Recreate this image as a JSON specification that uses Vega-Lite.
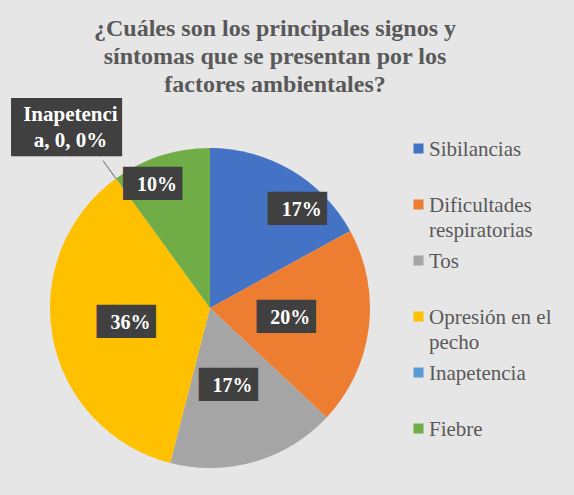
{
  "$schema": "https://vega.github.io/schema/vega-lite/v6.json",
  "width": 320,
  "height": 320,
  "autosize": "none",
  "padding": {"left": 50, "top": 148, "right": 204, "bottom": 27},
  "background": "#e6e6e6",
  "title": {
    "text": ["¿Cuáles son los principales signos y", "síntomas que se presentan por los", "factores ambientales?"],
    "font": "Liberation Serif",
    "fontSize": 24,
    "fontWeight": "bold",
    "color": "#595959",
    "lineHeight": 28,
    "anchor": "middle",
    "dx": 65,
    "offset": -26
  },
  "data": {
    "values": [
      {"categoria": "Sibilancias", "porcentaje": 0.17},
      {"categoria": "Dificultades respiratorias", "porcentaje": 0.20},
      {"categoria": "Tos", "porcentaje": 0.17},
      {"categoria": "Opresión en el pecho", "porcentaje": 0.36},
      {"categoria": "Inapetencia", "porcentaje": 0},
      {"categoria": "Fiebre", "porcentaje": 0.10}
    ]
  },
  "transform": [{"window": [{"op": "row_number", "as": "orden"}]}],
  "encoding": {
    "theta": {"field": "porcentaje", "type": "quantitative", "stack": true},
    "order": {"field": "orden", "type": "quantitative"}
  },
  "layer": [
    {
      "mark": {"type": "arc", "outerRadius": 160},
      "encoding": {
        "color": {
          "field": "categoria",
          "type": "nominal",
          "sort": null,
          "scale": {
            "domain": ["Sibilancias", "Dificultades respiratorias", "Tos", "Opresión en el pecho", "Inapetencia", "Fiebre"],
            "range": ["#4472C4", "#ED7D31", "#A5A5A5", "#FFC000", "#5B9BD5", "#70AD47"]
          },
          "legend": {
            "title": null,
            "orient": "none",
            "legendX": 358,
            "legendY": -10,
            "padding": 0,
            "symbolType": "square",
            "symbolSize": 100,
            "symbolStrokeWidth": 0,
            "labelFont": "Liberation Serif",
            "labelFontSize": 21,
            "labelColor": "#595959",
            "labelLimit": 200,
            "labelOffset": 0,
            "labelBaseline": "top",
            "rowPadding": 9,
            "labelExpr": "datum.label == 'Dificultades respiratorias' ? ['Dificultades', 'respiratorias'] : datum.label == 'Opresión en el pecho' ? ['Opresión en el', 'pecho'] : [datum.label, ' ']",
            "encode": {
              "labels": {"update": {"lineHeight": {"value": 25}, "dy": {"value": -10}}}
            }
          }
        }
      }
    },
    {
      "mark": {"type": "arc", "radius": 182, "radius2": 160, "fillOpacity": 0, "stroke": "#7f7f7f", "strokeWidth": 1},
      "encoding": {
        "strokeOpacity": {"condition": {"test": "datum.categoria === 'Inapetencia'", "value": 1}, "value": 0}
      }
    },
    {
      "mark": {"type": "text", "radius": 81, "font": "DejaVu Sans Mono", "fontSize": 28, "color": "#404040", "align": "center", "baseline": "middle"},
      "encoding": {
        "text": {"condition": {"test": "indexof(['Dificultades respiratorias', 'Tos', 'Opresión en el pecho'], datum.categoria) >= 0", "value": "███▌"}, "value": ""}
      }
    },
    {
      "mark": {"type": "text", "radius": 81, "font": "Liberation Serif", "fontSize": 20, "fontWeight": "bold", "color": "#ffffff", "align": "center", "baseline": "middle"},
      "encoding": {
        "text": {"condition": {"test": "indexof(['Dificultades respiratorias', 'Tos', 'Opresión en el pecho'], datum.categoria) >= 0", "field": "porcentaje", "type": "quantitative", "format": ".0%"}, "value": ""}
      }
    },
    {
      "mark": {"type": "text", "radius": 133, "dx": 24, "dy": 16, "font": "DejaVu Sans Mono", "fontSize": 28, "color": "#404040", "align": "center", "baseline": "middle"},
      "encoding": {
        "text": {"condition": {"test": "datum.categoria === 'Sibilancias'", "value": "███▌"}, "value": ""}
      }
    },
    {
      "mark": {"type": "text", "radius": 133, "dx": 24, "dy": 16, "font": "Liberation Serif", "fontSize": 20, "fontWeight": "bold", "color": "#ffffff", "align": "center", "baseline": "middle"},
      "encoding": {
        "text": {"condition": {"test": "datum.categoria === 'Sibilancias'", "field": "porcentaje", "type": "quantitative", "format": ".0%"}, "value": ""}
      }
    },
    {
      "mark": {"type": "text", "radius": 133, "dx": -12, "dy": 3, "font": "DejaVu Sans Mono", "fontSize": 28, "color": "#404040", "align": "center", "baseline": "middle"},
      "encoding": {
        "text": {"condition": {"test": "datum.categoria === 'Fiebre'", "value": "███▌"}, "value": ""}
      }
    },
    {
      "mark": {"type": "text", "radius": 133, "dx": -12, "dy": 3, "font": "Liberation Serif", "fontSize": 20, "fontWeight": "bold", "color": "#ffffff", "align": "center", "baseline": "middle"},
      "encoding": {
        "text": {"condition": {"test": "datum.categoria === 'Fiebre'", "field": "porcentaje", "type": "quantitative", "format": ".0%"}, "value": ""}
      }
    },
    {
      "mark": {"type": "text", "radius": 229, "dx": -5, "dy": 6, "font": "DejaVu Sans Mono", "fontSize": 49, "color": "#404040", "align": "center", "baseline": "middle"},
      "encoding": {
        "text": {"condition": {"test": "datum.categoria === 'Inapetencia'", "value": "███▊"}, "value": ""}
      }
    },
    {
      "mark": {"type": "text", "radius": 229, "dx": -5, "dy": -8, "font": "Liberation Serif", "fontSize": 21, "fontWeight": "bold", "color": "#ffffff", "align": "center", "baseline": "middle", "lineHeight": 26},
      "encoding": {
        "text": {"condition": {"test": "datum.categoria === 'Inapetencia'", "value": ["Inapetenci", "a, 0, 0%"]}, "value": ""}
      }
    }
  ],
  "config": {"view": {"stroke": null}}
}
